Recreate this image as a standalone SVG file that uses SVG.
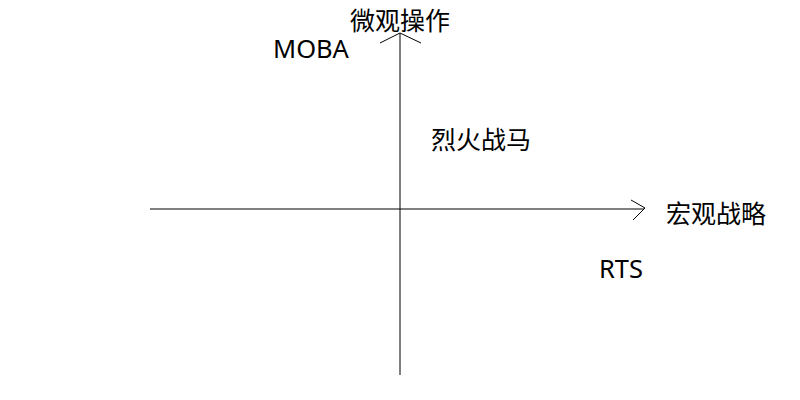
<svg xmlns="http://www.w3.org/2000/svg" width="800" height="400" viewBox="0 0 800 400">
<style>
.ax{stroke:#000;stroke-width:1;fill:none}
.cjk{font-family:"Noto Sans CJK SC","Noto Sans",sans-serif;font-size:25px;fill:#000}
.lat{font-family:"Noto Sans","Liberation Sans",sans-serif;font-size:25.5px;fill:#000}
</style>
<rect width="800" height="400" fill="#fff"/>
<g id="connectors">
<path class="ax" d="M150 209H644"/>
<path class="ax" d="M631 200L645 208L633 220"/>
<path class="ax" d="M400 375V33"/>
<path class="ax" d="M380 43L400 33L421 43"/>
</g>
<g id="y-label"><text class="cjk" x="350" y="30">微观操作</text></g>
<g id="x-label"><text class="cjk" x="666" y="223">宏观战略</text></g>
<g id="moba"><text class="lat" x="273" y="58">MOBA</text></g>
<g id="liehuo"><text class="cjk" x="431" y="149">烈火战马</text></g>
<g id="rts"><text class="lat" x="599" y="278">RTS</text></g>
</svg>
